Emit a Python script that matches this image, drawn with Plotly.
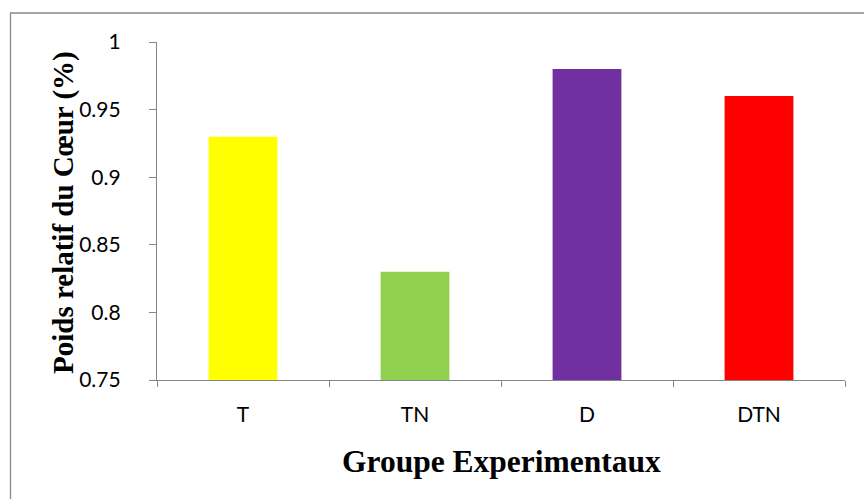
import plotly.graph_objects as go

categories = ["T", "TN", "D", "DTN"]
values = [0.93, 0.83, 0.98, 0.96]
colors = ["#FFFF00", "#92D050", "#7030A0", "#FF0000"]
y_tickvals = [0.75, 0.8, 0.85, 0.9, 0.95, 1.0]
y_ticktext = ["0.75", "0.8", "0.85", "0.9", "0.95", "1"]
x_title = "Groupe Experimentaux"
y_title = "Poids relatif du Cœur (%)"

W, H = 864, 499
L, R, T, B = 157, 19, 42, 119
pw = W - L - R
ph = H - T - B

fig = go.Figure(go.Bar(x=categories, y=values, marker=dict(color=colors, line=dict(width=0)), width=0.4))

axis_color = "#868686"
tick_font = dict(family="Lato, Open Sans, sans-serif", size=21, color="#000000")

fig.update_layout(
    width=W, height=H,
    margin=dict(l=L, r=R, t=T, b=B, pad=0),
    paper_bgcolor="white", plot_bgcolor="white",
    showlegend=False,
    xaxis=dict(
        type="category", showline=True, linecolor=axis_color, linewidth=1.3,
        ticks="outside", tickson="boundaries", ticklen=6, tickcolor=axis_color, tickwidth=1.3,
        tickfont=tick_font, showgrid=False, zeroline=False, ticklabelstandoff=16,
        range=[-0.5, 3.5],
    ),
    yaxis=dict(
        range=[0.75, 1.0], tickvals=y_tickvals, ticktext=y_ticktext,
        showline=True, linecolor=axis_color, linewidth=1.3,
        ticks="outside", ticklen=7, tickcolor=axis_color, tickwidth=1.3,
        tickfont=tick_font, showgrid=False, zeroline=False, ticklabelstandoff=24,
    ),
    font=dict(family="Liberation Serif", color="#000000"),
)

def px_x(x):
    return (x - L) / pw

def px_y(y):
    return 1 - (y - T) / ph

fig.add_annotation(
    text="<b>" + x_title + "</b>", xref="paper", yref="paper",
    x=px_x(501), y=px_y(461), xanchor="center", yanchor="middle",
    showarrow=False, font=dict(family="Liberation Serif", size=31.5, color="#000000"),
)
fig.add_annotation(
    text="<b>" + y_title + "</b>", xref="paper", yref="paper",
    x=px_x(63), y=px_y(213), xanchor="center", yanchor="middle", textangle=-90,
    showarrow=False, font=dict(family="Liberation Serif", size=29, color="#000000"),
)

fig.add_shape(
    type="rect", xref="paper", yref="paper",
    x0=px_x(10.5), x1=px_x(870), y0=px_y(13), y1=px_y(510),
    line=dict(color="#898989", width=1.3), fillcolor="rgba(0,0,0,0)", layer="below",
)

fig.write_html("out.html")
